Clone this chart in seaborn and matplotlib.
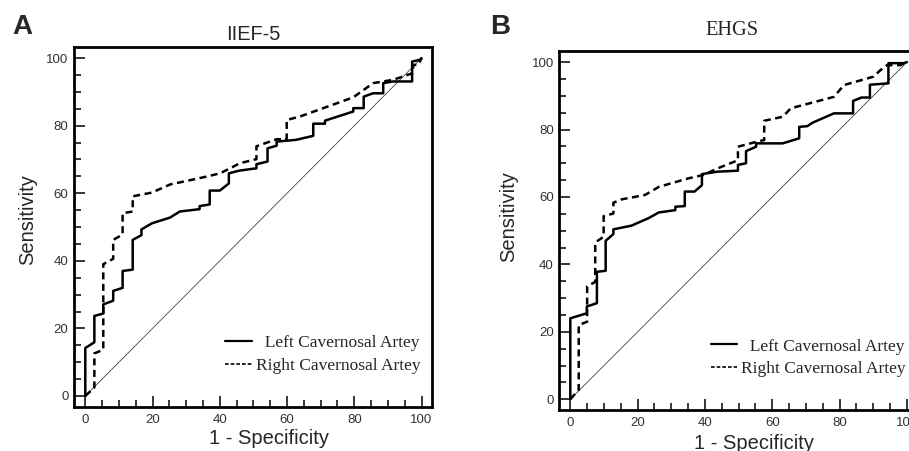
import pandas as pd
import seaborn as sns
import matplotlib
matplotlib.use('Agg')
import matplotlib.pyplot as plt
from matplotlib.lines import Line2D
from matplotlib.ticker import MultipleLocator

iief_left_x = [0, 0, 2.7, 2.7, 5.35, 5.35, 8.3, 8.3, 11.1, 11.1, 14.1, 14.1, 16.7, 16.7, 19.8, 25.2,
               28.1, 34.0, 34.0, 37.0, 37.0, 40.0, 42.7, 42.7, 45.8, 50.9, 50.9, 54.2, 54.2, 56.9,
               56.9, 62.6, 67.8, 67.8, 71.3, 71.3, 79.7, 79.7, 82.8, 82.8, 85.6, 88.6, 88.6, 91.6,
               97.2, 97.2, 99.5, 100]
iief_left_y = [0, 14.2, 15.9, 23.7, 24.4, 27.1, 28.2, 31.1, 32.0, 37.0, 37.4, 46.2, 47.6, 49.3, 51.1,
               52.8, 54.6, 55.3, 56.2, 56.7, 60.8, 60.8, 62.9, 65.9, 66.7, 67.4, 68.6, 69.4, 73.3,
               74.1, 75.3, 75.8, 77.0, 80.6, 80.6, 81.5, 84.2, 85.2, 85.2, 88.6, 89.6, 89.6, 92.6,
               93.1, 93.1, 99.0, 99.5, 100]
iief_right_x = [0, 2.7, 2.7, 5.35, 5.35, 8.3, 8.3, 11.1, 11.1, 14.1, 14.1, 19.8, 25.2, 34.1, 40.1,
                46.0, 50.9, 50.9, 56.9, 59.9, 59.9, 63.8, 79.7, 85.6, 91.6, 97.5, 97.5, 99.0, 100]
iief_right_y = [0, 2.5, 12.6, 13.7, 39.0, 40.6, 46.2, 47.8, 54.1, 54.6, 59.1, 60.2, 62.6, 64.5, 65.9,
                68.9, 70.1, 73.9, 76.0, 76.0, 81.7, 82.7, 88.4, 92.6, 93.6, 95.6, 98.0, 98.0, 100]

ehgs_left_x = [0, 0, 4.9, 4.9, 7.9, 7.9, 10.5, 10.5, 12.8, 12.8, 18.2, 23.2, 26.3, 31.2, 31.2, 34.0,
               34.0, 36.9, 39.1, 39.1, 43.8, 49.8, 49.8, 52.2, 52.2, 55.2, 55.2, 63.1, 68.0, 68.0,
               70.4, 71.9, 78.3, 84.0, 84.0, 86.5, 89.0, 89.0, 94.5, 94.5, 99.0, 100]
ehgs_left_y = [0, 24.0, 25.5, 27.5, 28.5, 37.8, 38.1, 47.0, 49.0, 50.4, 51.5, 53.7, 55.4, 56.1, 57.1,
               57.3, 61.6, 61.6, 63.5, 66.8, 67.5, 67.8, 69.5, 70.0, 73.6, 74.9, 75.9, 75.9, 77.4,
               80.8, 81.0, 82.0, 84.8, 84.8, 88.5, 89.5, 89.5, 93.3, 93.7, 99.7, 99.7, 100]
ehgs_right_x = [0, 2.5, 2.5, 5.0, 5.0, 7.4, 7.4, 9.9, 9.9, 12.8, 12.8, 15.3, 22.2, 26.3, 35.0, 39.4,
                43.8, 49.8, 49.8, 52.7, 57.6, 57.6, 63.1, 65.5, 78.3, 81.3, 90.1, 92.1, 94.1, 98.0, 100]
ehgs_right_y = [0, 2.8, 22.0, 23.0, 33.5, 34.8, 46.5, 48.2, 54.3, 55.1, 58.3, 59.3, 60.6, 63.0, 65.5,
                66.5, 68.5, 70.9, 74.9, 75.7, 76.9, 82.6, 83.8, 86.3, 89.7, 93.2, 95.7, 97.6, 99.1, 99.1, 100]

diag = [0, 100]
left_lab = 'Left Cavernosal Artey'
right_lab = 'Right Cavernosal Artey'


def make_df(lx, ly, rx, ry):
    a = pd.DataFrame({'fpr': lx, 'tpr': ly, 'artery': left_lab})
    b = pd.DataFrame({'fpr': rx, 'tpr': ry, 'artery': right_lab})
    return pd.concat([a, b], ignore_index=True)


sns.set_style('ticks')
plt.rcParams['font.family'] = ['Liberation Sans', 'DejaVu Sans']
serif = ['Liberation Serif', 'DejaVu Serif']

fig = plt.figure(figsize=(9.09, 4.51), dpi=100)
axA = fig.add_axes([0.0814, 0.0976, 0.3938, 0.7982])
axB = fig.add_axes([0.6153, 0.0909, 0.3939, 0.7960])

panels = [
    (axA, make_df(iief_left_x, iief_left_y, iief_right_x, iief_right_y), 'IIEF-5',
     (-3.36, 103.1), (-3.26, 103.3)),
    (axB, make_df(ehgs_left_x, ehgs_left_y, ehgs_right_x, ehgs_right_y), 'EHGS',
     (-3.27, 103.1), (-3.2, 103.3)),
]

for ax, df, title, xl, yl in panels:
    ax.plot(diag, diag, color='#444444', lw=0.6)
    sns.lineplot(data=df, x='fpr', y='tpr', hue='artery', style='artery', sort=False,
                 estimator=None, palette=['black', 'black'],
                 dashes={left_lab: '', right_lab: (2.8, 1.8)}, linewidth=1.8,
                 legend=False, ax=ax)
    ax.set_xlim(*xl)
    ax.set_ylim(*yl)
    ax.xaxis.set_major_locator(MultipleLocator(20))
    ax.yaxis.set_major_locator(MultipleLocator(20))
    ax.xaxis.set_minor_locator(MultipleLocator(5))
    ax.yaxis.set_minor_locator(MultipleLocator(5))
    ax.tick_params(which='both', direction='in', width=1.1, color='black',
                   labelsize=9.5, labelcolor='#333333', top=False, right=False)
    ax.tick_params(which='major', length=8)
    ax.tick_params(which='minor', length=5)
    ax.tick_params(axis='y', pad=4)
    ax.tick_params(axis='x', pad=5)
    for s in ax.spines.values():
        s.set_linewidth(2)
        s.set_color('black')
    ax.set_xlabel('1 - Specificity', fontsize=14.5)
    ax.set_ylabel('Sensitivity', fontsize=14.5)

    handles = [Line2D([], [], color='black', lw=1.6),
               Line2D([], [], color='black', lw=1.2, dashes=(2.2, 1.2))]
    ax.legend(handles, ['  ' + left_lab, right_lab], loc='lower right',
              bbox_to_anchor=(0.968, 0.092), frameon=False, borderpad=0, borderaxespad=0,
              handlelength=1.55, handletextpad=0.22, labelspacing=0.36,
              prop={'family': serif, 'size': 12.5})

axA.set_title('IIEF-5', fontsize=14.4, pad=5)
axB.set_title('EHGS', fontsize=14.7, family=serif, pad=11.5, x=0.481)

axA.xaxis.set_label_coords(0.544, -0.06)
axB.xaxis.set_label_coords(0.544, -0.066)
axA.yaxis.set_label_coords(-0.103, 0.522)
axB.yaxis.set_label_coords(-0.1145, 0.540)

fig.text(12 / 909, 1 - 34 / 451, 'A', fontsize=20, fontweight='bold', va='baseline')
fig.text(490 / 909, 1 - 34 / 451, 'B', fontsize=20, fontweight='bold', va='baseline')

fig.savefig('out.png', dpi=100)
